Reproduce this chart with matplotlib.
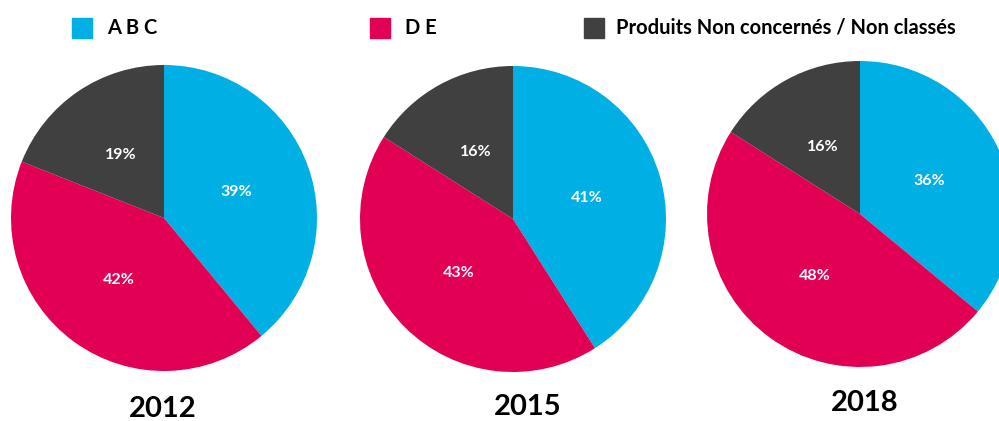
import matplotlib.pyplot as plt
from matplotlib.patches import Rectangle

# data
categories = ['A B C', 'D E', 'Produits Non concernés / Non classés']
colors = ['#00B0E4', '#E20054', '#404040']
years = ['2012', '2015', '2018']
shares = {
    '2012': [39, 42, 19],
    '2015': [41, 43, 16],
    '2018': [36, 48, 16],
}

W, H = 999, 421
fig = plt.figure(figsize=(W / 100, H / 100), dpi=100)
plt.rcParams['font.family'] = ['Lato', 'DejaVu Sans']

# pie centres (px) and radius
centres = [(164, 218), (513, 219), (860, 214)]
radius = 153
year_pos = [(163, 409), (528, 407), (865, 403)]

for year, (cx, cy), (tx, ty) in zip(years, centres, year_pos):
    ax = fig.add_axes([(cx - radius) / W, (H - cy - radius) / H,
                       2 * radius / W, 2 * radius / H])
    wedges, texts, autotexts = ax.pie(
        shares[year], colors=colors, startangle=90, counterclock=False,
        autopct='%d%%', pctdistance=0.5, radius=1,
        wedgeprops=dict(linewidth=0),
        textprops=dict(color='white', fontsize=11.5, fontweight='bold'))
    ax.set_xlim(-1, 1)
    ax.set_ylim(-1, 1)
    ax.set_aspect('equal')
    ax.axis('off')
    fig.text(tx / W, 1 - ty / H, year, ha='center', va='center',
             fontsize=21, fontweight='bold')

# legend drawn by hand to match spacing
leg_x = [72, 370, 584]
for label, col, x in zip(categories, colors, leg_x):
    fig.patches.append(Rectangle((x / W, 1 - 38 / H), 20 / W, 20 / H,
                                 transform=fig.transFigure, color=col))
    fig.text((x + 35) / W if label != categories[2] else (x + 32) / W,
             1 - 28 / H, label, ha='left', va='center',
             fontsize=14.5, fontweight='bold')

fig.savefig('out.png', dpi=100)
